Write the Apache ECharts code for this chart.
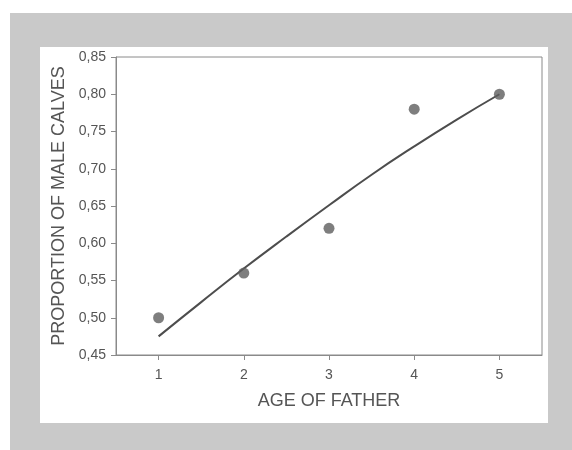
<!DOCTYPE html>
<html>
<head>
<meta charset="utf-8">
<script src="https://cdn.jsdelivr.net/npm/echarts@6/dist/echarts.min.js"></script>
<style>html,body{margin:0;padding:0;background:#fff;}#c{width:572px;height:450px;}</style>
</head>
<body>
<div id="c"></div>
<script>
const ages = [1, 2, 3, 4, 5];
const proportions = [0.50, 0.56, 0.62, 0.78, 0.80];
const fitAges = [1, 1.5, 2, 2.5, 3, 3.5, 4, 4.5, 5];
const fitValues = [0.475, 0.521, 0.566, 0.609, 0.651, 0.692, 0.730, 0.766, 0.800];
const xTickValues = [1, 2, 3, 4, 5];
const xTitle = 'AGE OF FATHER';
const yTitle = 'PROPORTION OF MALE CALVES';

const chart = echarts.init(document.getElementById('c'), null, {renderer: 'canvas'});
const textColor = '#555';
const axisColor = '#8a8a8a';
chart.setOption({
  backgroundColor: '#fff',
  animation: false,
  graphic: [
    {type: 'rect', z: -10, shape: {x: 10, y: 13, width: 562, height: 437}, style: {fill: '#c9c9c9'}},
    {type: 'rect', z: -9, shape: {x: 40, y: 47, width: 508, height: 376}, style: {fill: '#ffffff'}}
  ],
  grid: {left: 116, right: 30, top: 57, bottom: 95, show: true, borderColor: axisColor, borderWidth: 1, backgroundColor: 'transparent'},
  xAxis: {
    type: 'value', min: 0.5, max: 5.5,
    name: xTitle, nameLocation: 'middle', nameGap: 37,
    nameTextStyle: {fontFamily: 'Liberation Sans', fontSize: 18, color: textColor},
    axisLine: {show: true, lineStyle: {color: axisColor, width: 1}},
    axisTick: {show: true, length: 5, customValues: xTickValues, lineStyle: {color: axisColor}},
    axisLabel: {customValues: xTickValues, margin: 13, fontFamily: 'Liberation Sans', fontSize: 14, color: textColor},
    splitLine: {show: false}
  },
  yAxis: {
    type: 'value', min: 0.45, max: 0.85, interval: 0.05,
    name: yTitle, nameLocation: 'middle', nameRotate: 90, nameGap: 47,
    nameTextStyle: {fontFamily: 'Liberation Sans', fontSize: 18, color: textColor},
    axisLine: {show: true, lineStyle: {color: axisColor, width: 1}},
    axisTick: {show: true, length: 5, lineStyle: {color: axisColor}},
    axisLabel: {margin: 10, fontFamily: 'Liberation Sans', fontSize: 14, color: textColor,
      formatter: v => v.toFixed(2).replace('.', ',')},
    splitLine: {show: false}
  },
  series: [
    {
      type: 'line', smooth: true, showSymbol: false, symbol: 'none',
      data: fitAges.map((a, i) => [a, fitValues[i]]),
      lineStyle: {color: '#4d4d4d', width: 2}, z: 2
    },
    {
      type: 'scatter', symbolSize: 11,
      data: ages.map((a, i) => [a, proportions[i]]),
      itemStyle: {color: '#5e5e5e'}, z: 3
    }
  ]
});
</script>
</body>
</html>
